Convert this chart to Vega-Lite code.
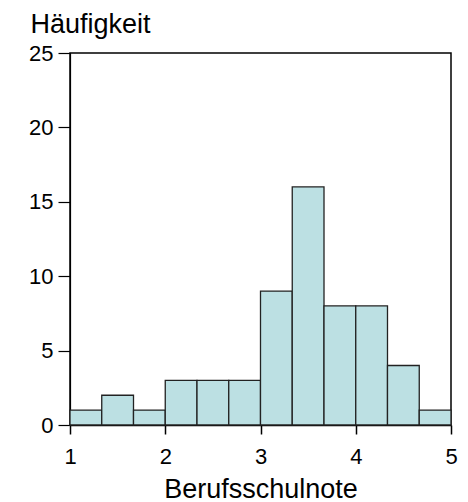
{
  "$schema": "https://vega.github.io/schema/vega-lite/v6.json",
  "autosize": {"type": "none"},
  "padding": {"left": 70, "top": 53, "right": 17, "bottom": 77},
  "width": 381,
  "height": 372,
  "background": "white",
  "config": {
    "font": "Liberation Sans",
    "view": {"stroke": "black", "strokeWidth": 1.5},
    "axis": {"grid": false, "domainColor": "black", "tickColor": "black", "labelColor": "black", "titleColor": "black", "labelFont": "Liberation Sans", "titleFont": "Liberation Sans", "titleFontWeight": "normal"}
  },
  "data": {"values": [
    {"lo": 1.0, "hi": 1.3333, "n": 1},
    {"lo": 1.3333, "hi": 1.6667, "n": 2},
    {"lo": 1.6667, "hi": 2.0, "n": 1},
    {"lo": 2.0, "hi": 2.3333, "n": 3},
    {"lo": 2.3333, "hi": 2.6667, "n": 3},
    {"lo": 2.6667, "hi": 3.0, "n": 3},
    {"lo": 3.0, "hi": 3.3333, "n": 9},
    {"lo": 3.3333, "hi": 3.6667, "n": 16},
    {"lo": 3.6667, "hi": 4.0, "n": 8},
    {"lo": 4.0, "hi": 4.3333, "n": 8},
    {"lo": 4.3333, "hi": 4.6667, "n": 4},
    {"lo": 4.6667, "hi": 5.0, "n": 1}
  ]},
  "mark": {"type": "rect", "fill": "#BCE0E3", "stroke": "#222222", "strokeWidth": 1.3},
  "encoding": {
    "x": {
      "field": "lo", "type": "quantitative",
      "scale": {"domain": [1, 5], "nice": false, "zero": false},
      "axis": {"values": [1, 2, 3, 4, 5], "format": "d", "title": "Berufsschulnote", "labelFontSize": 22, "labelFlush": false, "titleFontSize": 27, "tickSize": 9, "tickWidth": 1.5, "labelPadding": 12, "domainWidth": 1.5, "titleBaseline": "alphabetic", "titleY": 72}
    },
    "x2": {"field": "hi"},
    "y": {
      "field": "n", "type": "quantitative",
      "scale": {"domain": [0, 25], "nice": false},
      "axis": {"values": [0, 5, 10, 15, 20, 25], "title": "Häufigkeit", "labelFontSize": 22, "titleFontSize": 27, "tickSize": 12, "tickWidth": 1.2, "labelPadding": 5, "domainWidth": 1.2, "titleAngle": 0, "titleAlign": "left", "titleBaseline": "alphabetic", "titleX": -40, "titleY": -21}
    },
    "y2": {"datum": 0}
  }
}
